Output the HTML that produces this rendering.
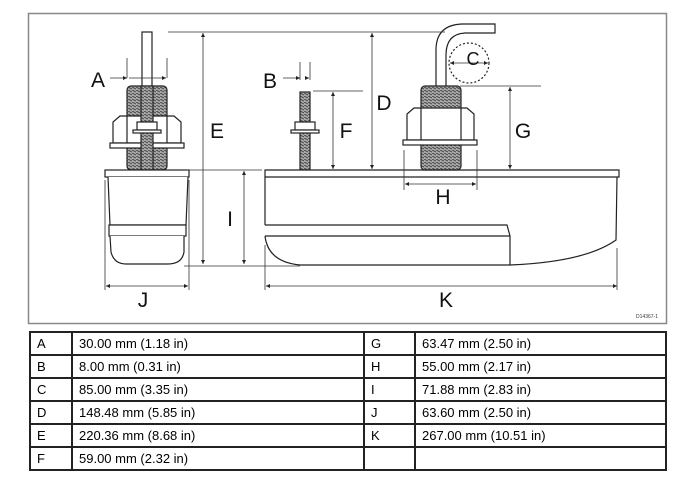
<!DOCTYPE html>
<html><head><style>
body{margin:0;background:#fff;width:700px;height:500px;overflow:hidden;font-family:"Liberation Sans",sans-serif}
table{position:absolute;left:29px;top:331px;border-collapse:collapse;width:638px;font-size:13px}
td{border:2px solid #222;height:21px;padding:0 0 0 6px}
</style></head><body>
<svg width="700" height="330" style="position:absolute;left:0;top:0" font-family="Liberation Sans, sans-serif">
<defs>
<pattern id="th" width="4" height="3" patternUnits="userSpaceOnUse"><rect width="4" height="3" fill="#aaa"/><line x1="0" y1="0" x2="4" y2="2" stroke="#444" stroke-width="1"/></pattern>
<marker id="a" viewBox="0 0 6 6" refX="6" refY="3" markerWidth="5" markerHeight="5" orient="auto-start-reverse"><path d="M0,0L6,3L0,6z" fill="#222"/></marker>
</defs>
<rect x="28.5" y="13.5" width="638" height="310" fill="none" stroke="#888" stroke-width="1.5"/>
<g stroke="#222" stroke-width="1.2" fill="#fff">
<!-- left unit -->
<rect x="142" y="32" width="10" height="60"/>
<rect x="127" y="86" width="40" height="84" fill="url(#th)" rx="4"/>
<path d="M113,143 L113,122 L120,116 L174,116 L181,122 L181,143Z"/>
<line x1="127" y1="116" x2="127" y2="143"/><line x1="167" y1="116" x2="167" y2="143"/>
<rect x="110" y="143" width="74" height="5"/>
<rect x="141" y="86" width="12" height="84" fill="url(#th)"/>
<rect x="137" y="122" width="20" height="8"/>
<rect x="133" y="130" width="28" height="3"/>
<rect x="105" y="170" width="84" height="7"/>
<path d="M108,177 L110,225 L186,225 L188,177"/>
<rect x="109" y="225" width="77" height="11"/>
<path d="M110,236 L111,252 Q114,264 126,264 L168,264 Q182,264 184,252 L184,236"/>
<!-- middle stud -->
<rect x="300" y="92" width="10" height="78" fill="url(#th)"/>
<rect x="295" y="122" width="20" height="8"/>
<rect x="291" y="130" width="28" height="3"/>
<!-- main body -->
<path d="M265,170 L619,170 L619,177 L265,177Z"/>
<path d="M265,177 L265,225 M617,177 L616,240 Q585,262 510,265 L300,265 Q268,262 265,236" fill="none"/>
<path d="M265,225 L507,225 L510,236 L510,265 M265,236 L510,236" fill="none"/>
<!-- right unit -->
<path d="M436,86 L436,50 Q436,25 462,24 L495,24 L495,33 L465,33 Q446,34 446,55 L446,86" />
<rect x="421" y="86" width="40" height="84" fill="url(#th)" rx="4"/>
<path d="M407,140 L407,114 L414,108 L467,108 L474,114 L474,140Z"/>
<line x1="421" y1="108" x2="421" y2="140"/><line x1="461" y1="108" x2="461" y2="140"/>
<rect x="403" y="140" width="74" height="5"/>
<circle cx="469" cy="63" r="20" stroke-dasharray="2,2"/>
</g>
<g stroke="#333" stroke-width="0.8" fill="none">
<line x1="168" y1="32" x2="445" y2="32"/>
<line x1="203" y1="33" x2="203" y2="264" marker-start="url(#a)" marker-end="url(#a)"/>
<line x1="184" y1="266" x2="300" y2="266"/>
<line x1="186" y1="170" x2="262" y2="170"/>
<line x1="244" y1="171" x2="244" y2="264" marker-start="url(#a)" marker-end="url(#a)"/>
<line x1="105" y1="180" x2="105" y2="290"/><line x1="189" y1="180" x2="189" y2="290"/>
<line x1="106" y1="286" x2="188" y2="286" marker-start="url(#a)" marker-end="url(#a)"/>
<line x1="127" y1="58" x2="127" y2="78"/><line x1="167" y1="58" x2="167" y2="78"/>
<line x1="110" y1="78" x2="127" y2="78" marker-end="url(#a)"/><line x1="129" y1="78" x2="166" y2="78" marker-end="url(#a)"/>
<line x1="300" y1="62" x2="300" y2="80"/><line x1="310" y1="62" x2="310" y2="80"/>
<line x1="283" y1="78" x2="300" y2="78" marker-end="url(#a)"/><line x1="305" y1="78" x2="309" y2="78" marker-end="url(#a)"/>
<line x1="313" y1="91" x2="363" y2="91"/>
<line x1="333" y1="92" x2="333" y2="169" marker-start="url(#a)" marker-end="url(#a)"/>
<line x1="372" y1="33" x2="372" y2="169" marker-start="url(#a)" marker-end="url(#a)"/>
<line x1="460" y1="86" x2="541" y2="86"/>
<line x1="510" y1="87" x2="510" y2="169" marker-start="url(#a)" marker-end="url(#a)"/>
<line x1="404" y1="150" x2="404" y2="190"/><line x1="477" y1="150" x2="477" y2="190"/>
<line x1="405" y1="184" x2="476" y2="184" marker-start="url(#a)" marker-end="url(#a)"/>
<line x1="450" y1="63" x2="488" y2="63" marker-start="url(#a)" marker-end="url(#a)"/>
<line x1="265" y1="245" x2="265" y2="290"/><line x1="617" y1="248" x2="617" y2="290"/>
<line x1="266" y1="286" x2="617" y2="286" marker-start="url(#a)" marker-end="url(#a)"/>
</g>
<g font-size="21" fill="#111" text-anchor="middle">
<text x="98" y="87">A</text><text x="270" y="88">B</text><text x="473" y="65" font-size="18">C</text>
<text x="384" y="110">D</text><text x="217" y="138">E</text><text x="346" y="138">F</text>
<text x="523" y="138">G</text><text x="443" y="204">H</text><text x="230" y="226">I</text>
<text x="143" y="307">J</text><text x="446" y="307">K</text>
</g>
<text x="658" y="318" font-size="5" fill="#333" text-anchor="end">D14367-1</text>
</svg>
<table>
<tr><td style="width:34px">A</td><td style="width:284px">30.00 mm (1.18 in)</td><td style="width:43px">G</td><td>63.47 mm (2.50 in)</td></tr>
<tr><td>B</td><td>8.00 mm (0.31 in)</td><td>H</td><td>55.00 mm (2.17 in)</td></tr>
<tr><td>C</td><td>85.00 mm (3.35 in)</td><td>I</td><td>71.88 mm (2.83 in)</td></tr>
<tr><td>D</td><td>148.48 mm (5.85 in)</td><td>J</td><td>63.60 mm (2.50 in)</td></tr>
<tr><td>E</td><td>220.36 mm (8.68 in)</td><td>K</td><td>267.00 mm (10.51 in)</td></tr>
<tr><td>F</td><td>59.00 mm (2.32 in)</td><td></td><td></td></tr>
</table>
</body></html>
